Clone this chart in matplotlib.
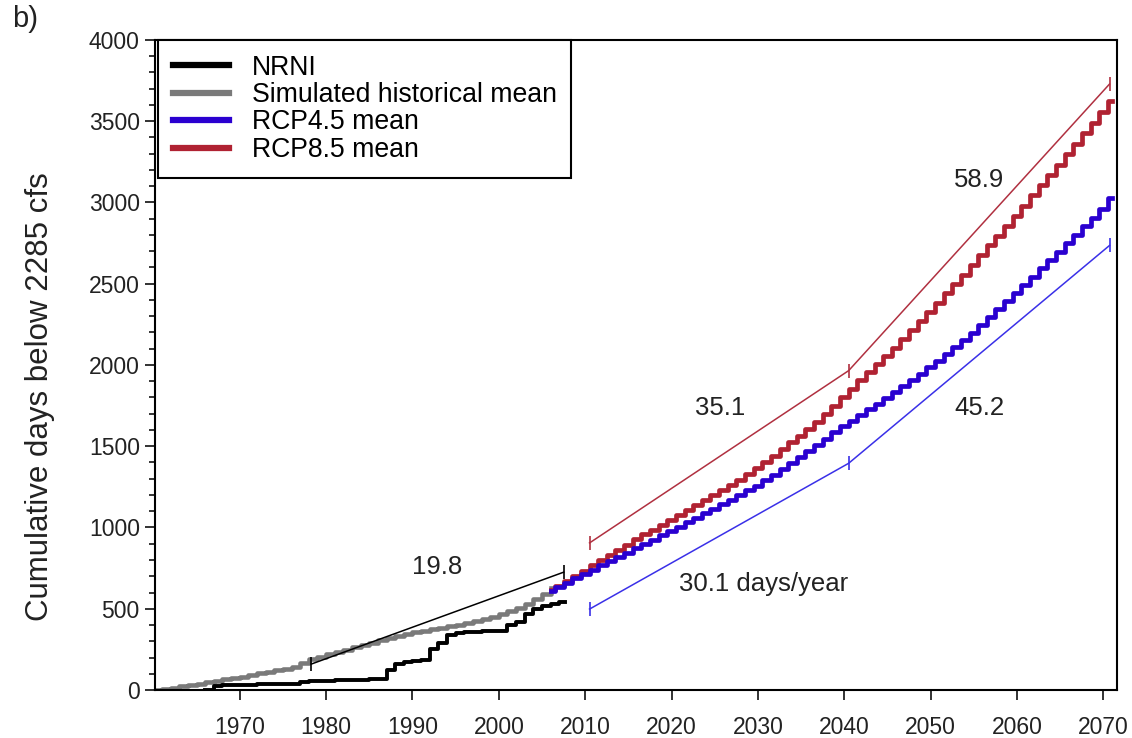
import matplotlib.pyplot as plt
from matplotlib.ticker import MultipleLocator

plt.rcParams['font.family'] = ['Liberation Sans', 'DejaVu Sans']

# NRNI (observed), annual cumulative counts
nrni_years = [1966, 1967, 1968, 1969, 1970, 1971, 1972, 1973, 1974, 1975, 1976,
              1977, 1978, 1979, 1980, 1981, 1982, 1983, 1984, 1985, 1986,
              1987, 1988, 1989, 1990, 1991, 1992, 1993, 1994, 1995, 1996,
              1997, 1998, 1999, 2000, 2001, 2002, 2003, 2004, 2005, 2006,
              2007, 2007.7]
nrni_days = [0, 25, 30, 32, 33, 34, 35, 36, 37, 37, 38,
             50, 53, 56, 58, 60, 62, 63, 64, 65, 66,
             125, 162, 170, 176, 182, 255, 290, 338, 350, 356,
             360, 362, 364, 366, 398, 420, 470, 500, 520, 532,
             543, 543]

# simulated historical mean
hist_years = [1960.2, 1961, 1962, 1963, 1964, 1965, 1966, 1967, 1968, 1969, 1970,
              1971, 1972, 1973, 1974, 1975, 1976, 1977, 1978, 1979, 1980,
              1981, 1982, 1983, 1984, 1985, 1986, 1987, 1988, 1989, 1990,
              1991, 1992, 1993, 1994, 1995, 1996, 1997, 1998, 1999, 2000,
              2001, 2002, 2003, 2004, 2005, 2006]
hist_days = [0, 5, 14, 23, 32, 40, 49, 57, 65, 74, 82,
             92, 102, 112, 122, 132, 143, 165, 188, 205, 220,
             232, 247, 262, 278, 292, 306, 320, 333, 347, 356,
             366, 375, 384, 392, 400, 412, 425, 438, 451, 468,
             487, 506, 528, 558, 590, 626]

# future projections 2006-2071
fut_years = list(range(2006, 2072))
rcp85_days = [615, 640, 668, 700, 735, 767, 799, 831, 863, 895,
              927, 957, 987, 1016, 1046, 1077, 1107, 1138, 1169, 1200,
              1231, 1262, 1293, 1328, 1365, 1403, 1442, 1482, 1523, 1565,
              1608, 1652, 1697, 1750, 1805, 1855, 1905, 1955, 2005, 2055,
              2105, 2160, 2216, 2272, 2328, 2384, 2440, 2497, 2555, 2615,
              2675, 2735, 2795, 2855, 2917, 2980, 3043, 3106, 3169, 3232,
              3295, 3360, 3425, 3490, 3557, 3625]
rcp45_days = [610, 633, 660, 688, 715, 741, 767, 793, 819, 845,
              872, 899, 926, 953, 980, 1006, 1033, 1060, 1087, 1115,
              1143, 1171, 1200, 1229, 1258, 1290, 1324, 1360, 1396, 1433,
              1470, 1508, 1546, 1585, 1622, 1657, 1692, 1727, 1762, 1797,
              1833, 1870, 1908, 1946, 1985, 2025, 2066, 2108, 2152, 2198,
              2245, 2293, 2342, 2392, 2442, 2493, 2544, 2595, 2646, 2697,
              2748, 2800, 2853, 2907, 2962, 3030]

# trend segments (days/year)
hist_trend_x = [1978.3, 2007.5]
hist_trend_y = [160, 725]
rcp85_trend_x = [2010.5, 2040.5, 2070.7]
rcp85_trend_y = [905, 1965, 3728]
rcp45_trend_x = [2010.5, 2040.5, 2070.7]
rcp45_trend_y = [498, 1395, 2735]

trend_labels = ["19.8", "35.1", "58.9", "45.2", "30.1 days/year"]
label_x = [1992.9, 2025.6, 2055.6, 2055.6, 2030.6]
label_y = [757, 1735, 3135, 1735, 650]

red = '#b02232'
blue = '#2a00d0'
gray = '#7a7a7a'

fig = plt.figure(figsize=(11.32, 7.38), dpi=100)
ax = fig.add_axes([0.137, 0.065, 0.850, 0.881])

ax.plot(hist_years, hist_days, color=gray, lw=3.3, drawstyle='steps-post',
        label='Simulated historical mean')
ax.plot(nrni_years, nrni_days, color='black', lw=2.8, drawstyle='steps-post',
        label='NRNI')
ax.plot(fut_years, rcp85_days, color=red, lw=3.4, drawstyle='steps-mid',
        label='RCP8.5 mean')
ax.plot(fut_years, rcp45_days, color=blue, lw=3.4, drawstyle='steps-mid',
        label='RCP4.5 mean')

# trend lines with end ticks
ax.plot(hist_trend_x, hist_trend_y, color='black', lw=1.1, marker='|', ms=10, mew=1.2)
ax.plot(rcp85_trend_x, rcp85_trend_y, color='#b03040', lw=1.1, marker='|', ms=10, mew=1.2)
ax.plot(rcp45_trend_x, rcp45_trend_y, color='#3a30e8', lw=1.1, marker='|', ms=10, mew=1.2)

for t, x, y in zip(trend_labels, label_x, label_y):
    ax.text(x, y, t, fontsize=18.5, color='#222222', ha='center', va='center')

ax.set_xlim(1960.2, 2071.6)
ax.set_ylim(0, 4000)
ax.yaxis.set_major_locator(MultipleLocator(500))
ax.yaxis.set_minor_locator(MultipleLocator(100))
ax.set_xticks(range(1970, 2071, 10))
ax.tick_params(axis='x', which='major', direction='out', length=7, width=1.3,
               labelsize=16.5, pad=12, colors='#222222')
ax.tick_params(axis='y', which='major', direction='out', length=7, width=1.3,
               labelsize=16.5, pad=4, colors='#222222')
ax.tick_params(axis='y', which='minor', direction='out', length=4, width=1.1)
for s in ax.spines.values():
    s.set_linewidth(1.5)

ax.set_ylabel('Cumulative days below 2285 cfs', fontsize=22.5, color='#222222')
ax.yaxis.set_label_coords(-0.104, 0.452)

handles, labels = ax.get_legend_handles_labels()
order = [1, 0, 3, 2]
leg = ax.legend([handles[i] for i in order], [labels[i] for i in order],
                loc='upper left', bbox_to_anchor=(0.003, 1.0), borderaxespad=0,
                fontsize=19.2, fancybox=False, framealpha=1, edgecolor='black',
                handlelength=2.1, handletextpad=0.86, labelspacing=0.055, borderpad=0.55)
leg.get_frame().set_linewidth(1.5)
for ln in leg.get_lines():
    ln.set_linewidth(4.5)
    ln.set_drawstyle('default')

fig.text(0.011, 0.955, 'b)', fontsize=21, color='#222222', ha='left', va='bottom')

fig.savefig('out.png', dpi=100)
